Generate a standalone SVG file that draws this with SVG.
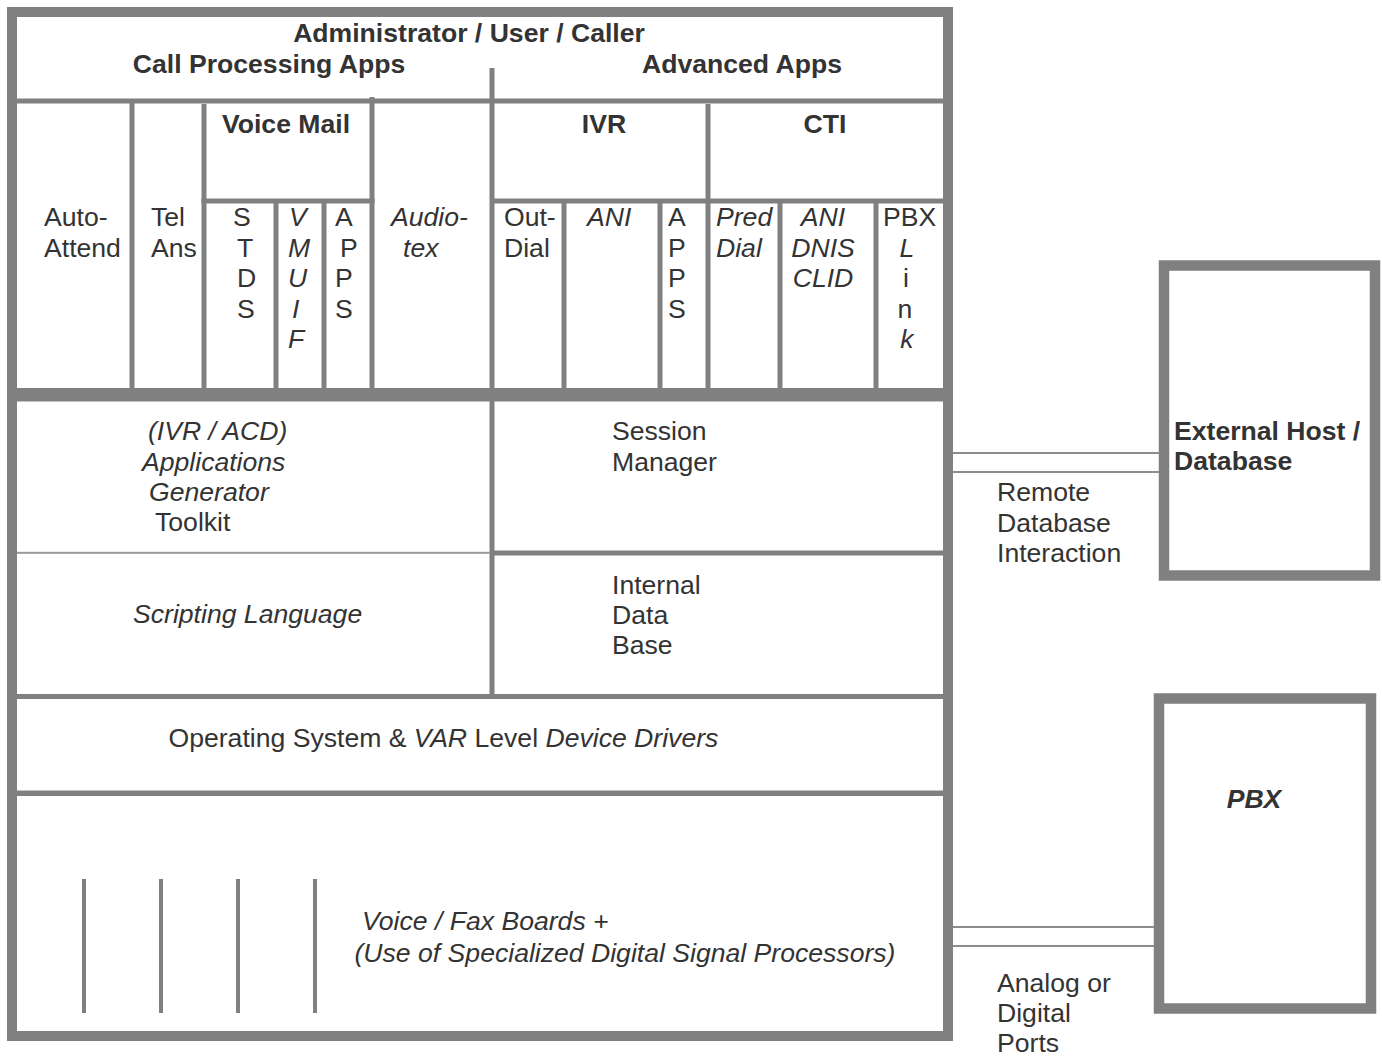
<svg xmlns="http://www.w3.org/2000/svg" width="1382" height="1057" viewBox="0 0 1382 1057">
<style>
text{font-family:"Liberation Sans",Arial,sans-serif;font-size:26.6px;fill:#333}
.b{font-weight:bold}
.i{font-style:italic}
.m{text-anchor:middle}
.ln{fill:#808080}
.thin{fill:#9a9a9a}
.box{fill:#fff;stroke:#808080}
.con{stroke:#8c8c8c;stroke-width:2;fill:none}
</style>
<rect width="1382" height="1057" fill="#fff"/>

<g id="system">
  <rect class="box" x="12" y="12" width="936" height="1024" stroke-width="10"/>
  <g id="frame-lines">
    <rect class="ln" x="17" y="98.5" width="926" height="5"/>
    <rect class="ln" x="489.5" y="68" width="5" height="322"/>
    <rect class="ln" x="129.5" y="103" width="5" height="287"/>
    <rect class="ln" x="201.5" y="104" width="5" height="286"/>
    <rect class="ln" x="201.5" y="198.5" width="173" height="5"/>
    <rect class="ln" x="273.5" y="201" width="5" height="189"/>
    <rect class="ln" x="321.5" y="201" width="5" height="189"/>
    <rect class="ln" x="369.5" y="97" width="5" height="293"/>
    <rect class="ln" x="705.5" y="104" width="5" height="286"/>
    <rect class="ln" x="492" y="198.5" width="451" height="5"/>
    <rect class="ln" x="561.5" y="201" width="5" height="189"/>
    <rect class="ln" x="657.5" y="201" width="5" height="189"/>
    <rect class="ln" x="777.5" y="201" width="5" height="189"/>
    <rect class="ln" x="873.5" y="201" width="5" height="189"/>
    <rect class="ln" x="7" y="388" width="946" height="13.5"/>
    <rect class="ln" x="489.5" y="401" width="5" height="296"/>
    <rect class="thin" x="17" y="551.8" width="473" height="2"/>
    <rect class="ln" x="492" y="550.5" width="451" height="5"/>
    <rect class="ln" x="17" y="694" width="926" height="5"/>
    <rect class="ln" x="17" y="790.5" width="926" height="5.5"/>
  </g>

  <g id="header">
    <text class="b m" x="469" y="42">Administrator / User / Caller</text>
    <text class="b m" x="269" y="73">Call Processing Apps</text>
    <text class="b m" x="742" y="73">Advanced Apps</text>
  </g>

  <g id="auto-attend"><text x="44" y="226">Auto-</text><text x="44" y="256.6">Attend</text></g>
  <g id="tel-ans"><text x="151" y="226">Tel</text><text x="151" y="256.6">Ans</text></g>
  <g id="voice-mail">
    <text class="b m" x="286" y="133">Voice Mail</text>
    <g id="stds"><text x="233" y="226">S</text><text x="237" y="256.6">T</text><text x="237" y="287.2">D</text><text x="237" y="317.8">S</text></g>
    <g id="vmuif"><text class="i" x="289" y="226">V</text><text class="i" x="288" y="256.6">M</text><text class="i" x="288" y="287.2">U</text><text class="i" x="292" y="317.8">I</text><text class="i" x="288" y="348.4">F</text></g>
    <g id="vm-apps"><text x="335" y="226">A</text><text x="340" y="256.6">P</text><text x="335" y="287.2">P</text><text x="335" y="317.8">S</text></g>
  </g>
  <g id="audiotex"><text class="i" x="391" y="226">Audio-</text><text class="i" x="403" y="256.6">tex</text></g>

  <g id="ivr">
    <text class="b m" x="604" y="133">IVR</text>
    <g id="out-dial"><text x="504" y="226">Out-</text><text x="504" y="256.6">Dial</text></g>
    <g id="ivr-ani"><text class="i" x="587" y="226">ANI</text></g>
    <g id="ivr-apps"><text x="668" y="226">A</text><text x="668" y="256.6">P</text><text x="668" y="287.2">P</text><text x="668" y="317.8">S</text></g>
  </g>
  <g id="cti">
    <text class="b m" x="825" y="133">CTI</text>
    <g id="pred-dial"><text class="i" x="716" y="226">Pred</text><text class="i" x="716" y="256.6">Dial</text></g>
    <g id="ani-dnis"><text class="i m" x="823" y="226">ANI</text><text class="i m" x="823" y="256.6">DNIS</text><text class="i m" x="823" y="287.2">CLID</text></g>
    <g id="pbx-link"><text x="883" y="226">PBX</text><text class="i m" x="907" y="256.6">L</text><text class="m" x="906" y="287.2">i</text><text class="m" x="905" y="317.8">n</text><text class="i m" x="907" y="348.4">k</text></g>
  </g>

  <g id="app-generator">
    <text class="i" x="148" y="440">(IVR / ACD)</text>
    <text class="i" x="142" y="470.5">Applications</text>
    <text class="i" x="149" y="500.5">Generator</text>
    <text x="155" y="530.5">Toolkit</text>
  </g>
  <g id="scripting"><text class="i" x="133" y="623">Scripting Language</text></g>
  <g id="session-manager"><text x="612" y="440">Session</text><text x="612" y="470.5">Manager</text></g>
  <g id="internal-db"><text x="612" y="593.5">Internal</text><text x="612" y="623.5">Data</text><text x="612" y="654">Base</text></g>
  <g id="os"><text x="168.5" y="746.5">Operating System &amp; <tspan class="i">VAR</tspan> Level <tspan class="i">Device Drivers</tspan></text></g>
  <g id="boards">
    <rect class="ln" x="82" y="879" width="4" height="134"/>
    <rect class="ln" x="159" y="879" width="4" height="134"/>
    <rect class="ln" x="236" y="879" width="4" height="134"/>
    <rect class="ln" x="313" y="879" width="4" height="134"/>
    <text class="i" x="362" y="930">Voice / Fax Boards +</text>
    <text class="i" x="354.5" y="961.5">(Use of Specialized Digital Signal Processors)</text>
  </g>
</g>

<g id="external-host">
  <rect class="box" x="1164" y="265.5" width="211" height="310" stroke-width="10.5"/>
  <text class="b" x="1174" y="440">External Host /</text>
  <text class="b" x="1174" y="470">Database</text>
</g>

<g id="pbx">
  <rect class="box" x="1159" y="698.5" width="212" height="310" stroke-width="10.5"/>
  <text class="b i m" x="1254" y="808">PBX</text>
</g>

<g id="connectors">
  <line class="con" x1="953" y1="453" x2="1159" y2="453"/>
  <line class="con" x1="953" y1="472" x2="1159" y2="472"/>
  <line class="con" x1="953" y1="927" x2="1154" y2="927"/>
  <line class="con" x1="953" y1="946" x2="1154" y2="946"/>
  <text x="997" y="500.5">Remote</text>
  <text x="997" y="531.5">Database</text>
  <text x="997" y="562">Interaction</text>
  <text x="997" y="991.5">Analog or</text>
  <text x="997" y="1022">Digital</text>
  <text x="997" y="1052">Ports</text>
</g>
</svg>
